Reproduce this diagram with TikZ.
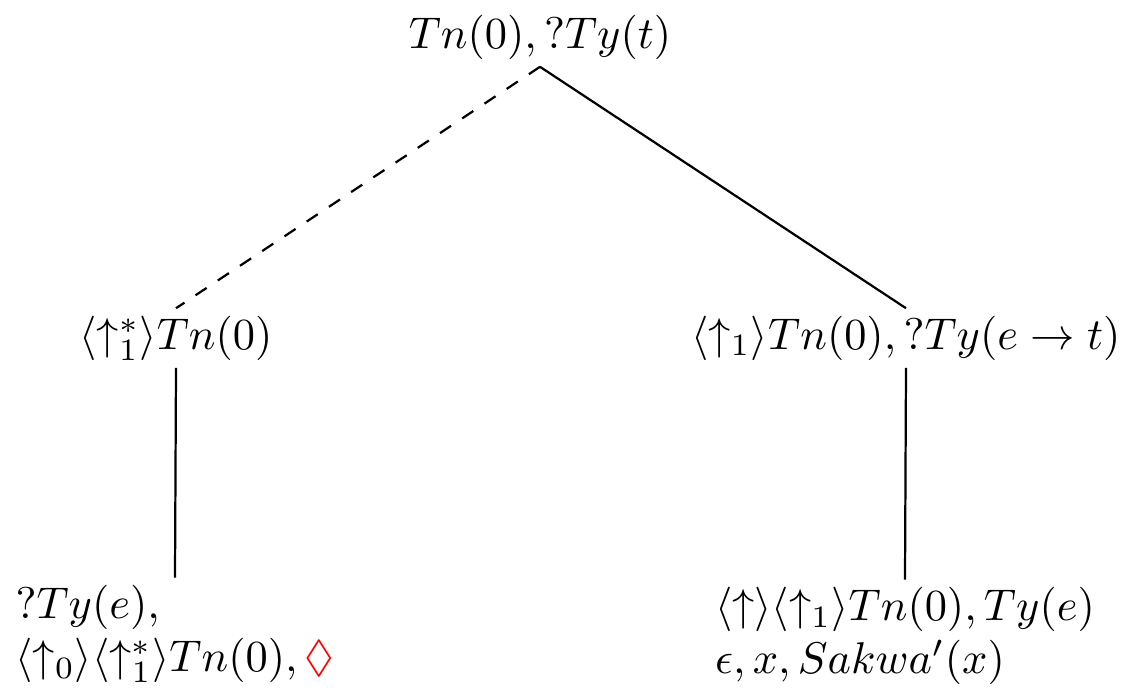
\documentclass[tikz,border=0pt]{standalone}
\usepackage{amssymb}
\begin{document}
\begin{tikzpicture}[x=0.225pt,y=-0.225pt,
  tn/.style={inner sep=1.5pt, anchor=center},
  ml/.style={inner sep=1.5pt, align=left, anchor=center},
  edge/.style={line width=0.5pt}]
\useasboundingbox (0,0) rectangle (1121,693);
\node[tn] (root) at (540,37) {$Tn(0), ?Ty(t)$};
\node[tn] (l) at (176,338) {$\langle\uparrow_1^*\rangle Tn(0)$};
\node[tn] (r) at (906,338) {$\langle\uparrow_1\rangle Tn(0), ?Ty(e\rightarrow t)$};
\node[ml] (lb) at (175,634) {$?Ty(e),$\\$\langle\uparrow_0\rangle\langle\uparrow_1^*\rangle Tn(0),\textcolor{red}{\Diamond}$};
\node[ml] (rb) at (905,636) {$\langle\uparrow\rangle\langle\uparrow_1\rangle Tn(0), Ty(e)$\\$\epsilon, x, Sakwa'(x)$};
\draw[edge, dashed] (root.south) -- (l.north);
\draw[edge] (root.south) -- (r.north);
\draw[edge] (l.south) -- (lb.north);
\draw[edge] (r.south) -- (rb.north);
\end{tikzpicture}
\end{document}
